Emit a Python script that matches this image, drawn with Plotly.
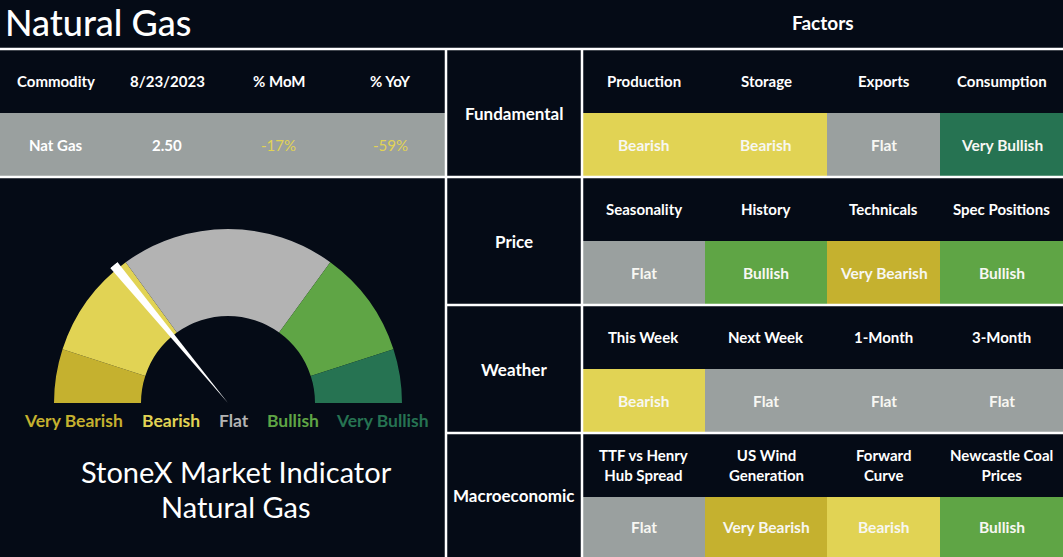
import plotly.graph_objects as go

# ---- data ----
commodity_header = ["Commodity", "8/23/2023", "% MoM", "% YoY"]
commodity_values = ["Nat Gas", "2.50", "-17%", "-59%"]

categories = ["Fundamental", "Price", "Weather", "Macroeconomic"]
fundamental_factors = ["Production", "Storage", "Exports", "Consumption"]
fundamental_signals = ["Bearish", "Bearish", "Flat", "Very Bullish"]
price_factors = ["Seasonality", "History", "Technicals", "Spec Positions"]
price_signals = ["Flat", "Bullish", "Very Bearish", "Bullish"]
weather_factors = ["This Week", "Next Week", "1-Month", "3-Month"]
weather_signals = ["Bearish", "Flat", "Flat", "Flat"]
macro_factors = ["TTF vs Henry<br>Hub Spread", "US Wind<br>Generation", "Forward<br>Curve", "Newcastle Coal<br>Prices"]
macro_signals = ["Flat", "Very Bearish", "Bearish", "Bullish"]

gauge_labels = ["Very Bearish", "Bearish", "Flat", "Bullish", "Very Bullish"]
gauge_spans = [10, 20, 40, 20, 10]
indicator_value = 28

# ---- styles ----
W, H = 1063, 557
BG = "#050b16"
LINE = "white"
FONT = "Lato"
cell_colors = {"Very Bearish": "#c5b12f", "Bearish": "#e1d354", "Flat": "#9aa09f",
               "Bullish": "#5fa545", "Very Bullish": "#267352"}
gauge_colors = ["#c5b12f", "#e1d354", "#b3b3b3", "#5fa545", "#267352"]
label_x = [73, 171, 234, 293, 382]

left_w = 446
cat_x0, cat_x1 = 446, 582
col_edges = [582, 705, 827, 940, 1063]
row_edges = [49, 177, 305, 433, 557]

shapes = []
annotations = []


def text(x, y, s, size=14, color="white", weight=700, xanchor="center"):
    annotations.append(dict(x=x, y=y, xref="x", yref="y", text=s, showarrow=False,
                            xanchor=xanchor, yanchor="middle",
                            font=dict(family=FONT, size=size, color=color, weight=weight)))


def rect(x0, y0, x1, y1, color):
    shapes.append(dict(type="rect", xref="x", yref="y", x0=x0, y0=y0, x1=x1, y1=y1,
                       fillcolor=color, line=dict(width=0), layer="below"))


def line(x0, y0, x1, y1):
    shapes.append(dict(type="line", xref="x", yref="y", x0=x0, y0=y0, x1=x1, y1=y1,
                       line=dict(color=LINE, width=2.5), layer="above"))


# titles
text(3, 22, "Natural Gas", size=36, weight=500, xanchor="left")
text(823, 22, "Factors", size=19)

# commodity table
cw = left_w / len(commodity_header)
rect(0, 113, left_w, 177, "#9aa09f")
for i, (h, v) in enumerate(zip(commodity_header, commodity_values)):
    cx = cw * i + cw / 2
    text(cx, 81, h, size=15)
    vcol = "#e1d354" if v.startswith("-") else "white"
    text(cx, 145, v, size=15, color=vcol, weight=700 if i < 2 else 400)

# factor grid
all_factors = [fundamental_factors, price_factors, weather_factors, macro_factors]
all_signals = [fundamental_signals, price_signals, weather_signals, macro_signals]
for r, cat in enumerate(categories):
    y0, y1 = row_edges[r], row_edges[r + 1]
    ym = y0 + 64
    text((cat_x0 + cat_x1) / 2, (y0 + y1) / 2, cat, size=17)
    for c in range(4):
        x0, x1 = col_edges[c], col_edges[c + 1]
        sig = all_signals[r][c]
        rect(x0, ym, x1, y1, cell_colors[sig])
        text((x0 + x1) / 2, (y0 + ym) / 2, all_factors[r][c], size=15)
        text((x0 + x1) / 2, (ym + y1) / 2, sig, size=15.5, color="#f7f7f2")

# grid lines
line(0, 49, W, 49)
line(0, 177, W, 177)
line(446, 305, W, 305)
line(446, 433, W, 433)
line(446, 49, 446, H)
line(582, 49, 582, H)

# gauge labels & caption
for lab, x, col in zip(gauge_labels, label_x, gauge_colors):
    text(x, 420, lab, size=17.5, color=col)
text(236, 471, "StoneX Market Indicator", size=29, weight=400)
text(236, 506, "Natural Gas", size=29, weight=400)

# gauge (barpolar, 0-100 mapped onto 180 degrees)
centers, start = [], 0
for s in gauge_spans:
    centers.append((start + s / 2) * 1.8)
    start += s

fig = go.Figure()
fig.add_trace(go.Scatter(x=[0, W], y=[0, H], mode="markers", marker=dict(opacity=0),
                         hoverinfo="skip", showlegend=False))
fig.add_trace(go.Barpolar(r=[0.5] * len(gauge_spans), base=[0.5] * len(gauge_spans),
                          theta=centers, width=[s * 1.8 for s in gauge_spans],
                          marker=dict(color=gauge_colors, line=dict(width=0)),
                          hoverinfo="skip", showlegend=False))
fig.add_trace(go.Barpolar(r=[1.03], base=[0], theta=[indicator_value * 1.8], width=[3],
                          marker=dict(color="white", line=dict(width=0)),
                          hoverinfo="skip", showlegend=False))

cx, cy, R = 228, 403, 174 * 1.03
fig.update_layout(
    width=W, height=H,
    margin=dict(l=0, r=0, t=0, b=0),
    paper_bgcolor=BG, plot_bgcolor=BG,
    xaxis=dict(range=[0, W], visible=False, fixedrange=True),
    yaxis=dict(range=[H, 0], visible=False, fixedrange=True),
    polar=dict(
        domain=dict(x=[(cx - R) / W, (cx + R) / W], y=[(H - cy) / H, (H - cy + R) / H]),
        sector=[0, 180], hole=0, bgcolor="rgba(0,0,0,0)",
        angularaxis=dict(rotation=180, direction="clockwise", visible=False),
        radialaxis=dict(range=[0, 1.03], visible=False),
    ),
    shapes=shapes,
    annotations=annotations,
    showlegend=False,
)

fig.write_html("out.html", config={"displayModeBar": False},
               post_script="document.body.style.margin='0';document.body.style.overflow='hidden';")
